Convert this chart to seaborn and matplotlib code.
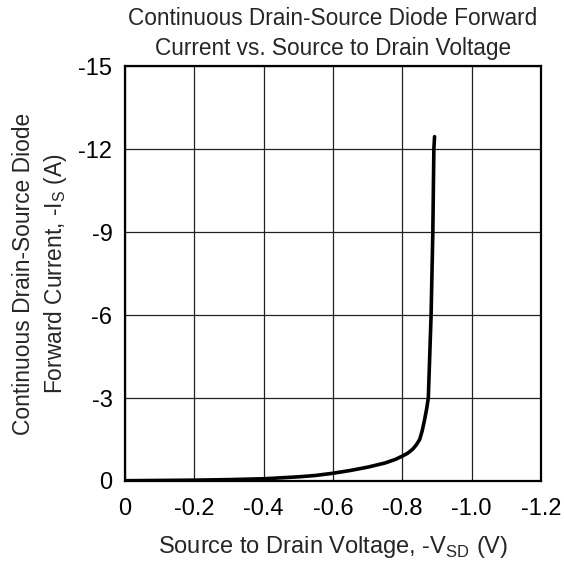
import matplotlib
matplotlib.use("Agg")
import matplotlib.pyplot as plt
import seaborn as sns

# Data (both axes shown as negative values)
v_sd = [0, -0.1, -0.2, -0.3, -0.4, -0.5, -0.55, -0.6, -0.65, -0.7, -0.75, -0.78,
        -0.8, -0.815, -0.83, -0.84, -0.85, -0.857, -0.864, -0.87, -0.875, -0.879,
        -0.883, -0.888, -0.891, -0.893]
i_s = [-0.01, -0.02, -0.03, -0.05, -0.08, -0.15, -0.2, -0.28, -0.38, -0.5, -0.65,
       -0.78, -0.9, -1.0, -1.15, -1.3, -1.5, -1.8, -2.2, -2.6, -3.0, -4.5,
       -6.0, -9.0, -12.0, -12.45]

x_ticks = [0, -0.2, -0.4, -0.6, -0.8, -1.0, -1.2]
x_labels = ["0", "-0.2", "-0.4", "-0.6", "-0.8", "-1.0", "-1.2"]
y_ticks = [0, -3, -6, -9, -12, -15]
y_labels = ["0", "-3", "-6", "-9", "-12", "-15"]

sns.set_style("white")
plt.rcParams['font.family'] = ['Liberation Sans', 'DejaVu Sans']
plt.rcParams['mathtext.fontset'] = 'custom'
plt.rcParams['mathtext.rm'] = 'Liberation Sans'

fig = plt.figure(figsize=(5.64, 5.75), dpi=100)
ax = fig.add_axes([0.2216, 0.1635, 0.7376, 0.7215])

sns.lineplot(x=v_sd, y=i_s, ax=ax, color='black', linewidth=2.6, sort=False)

ax.set_xlim(0, -1.2)
ax.set_ylim(0, -15)
ax.set_xticks(x_ticks)
ax.set_xticklabels(x_labels)
ax.set_yticks(y_ticks)
ax.set_yticklabels(y_labels)
ax.tick_params(axis='both', length=0, labelsize=17, colors='black')
ax.tick_params(axis='x', pad=12)
ax.tick_params(axis='y', pad=9)

ax.grid(True, color='#222222', linewidth=0.9)
for s in ax.spines.values():
    s.set_color('black')
    s.set_linewidth(1.6)

ax.set_title("Continuous Drain-Source Diode Forward\nCurrent vs. Source to Drain Voltage",
             fontsize=16.3, linespacing=1.4, pad=8)
ax.set_xlabel(r"Source to Drain Voltage, -V$_{\mathrm{SD}}$ (V)", fontsize=17, labelpad=10)
ax.set_ylabel("Continuous Drain-Source Diode\n" + r"Forward Current, -I$_{\mathrm{S}}$ (A)",
              fontsize=16.4, labelpad=7, linespacing=1.35)

fig.savefig("out.png", dpi=100)
